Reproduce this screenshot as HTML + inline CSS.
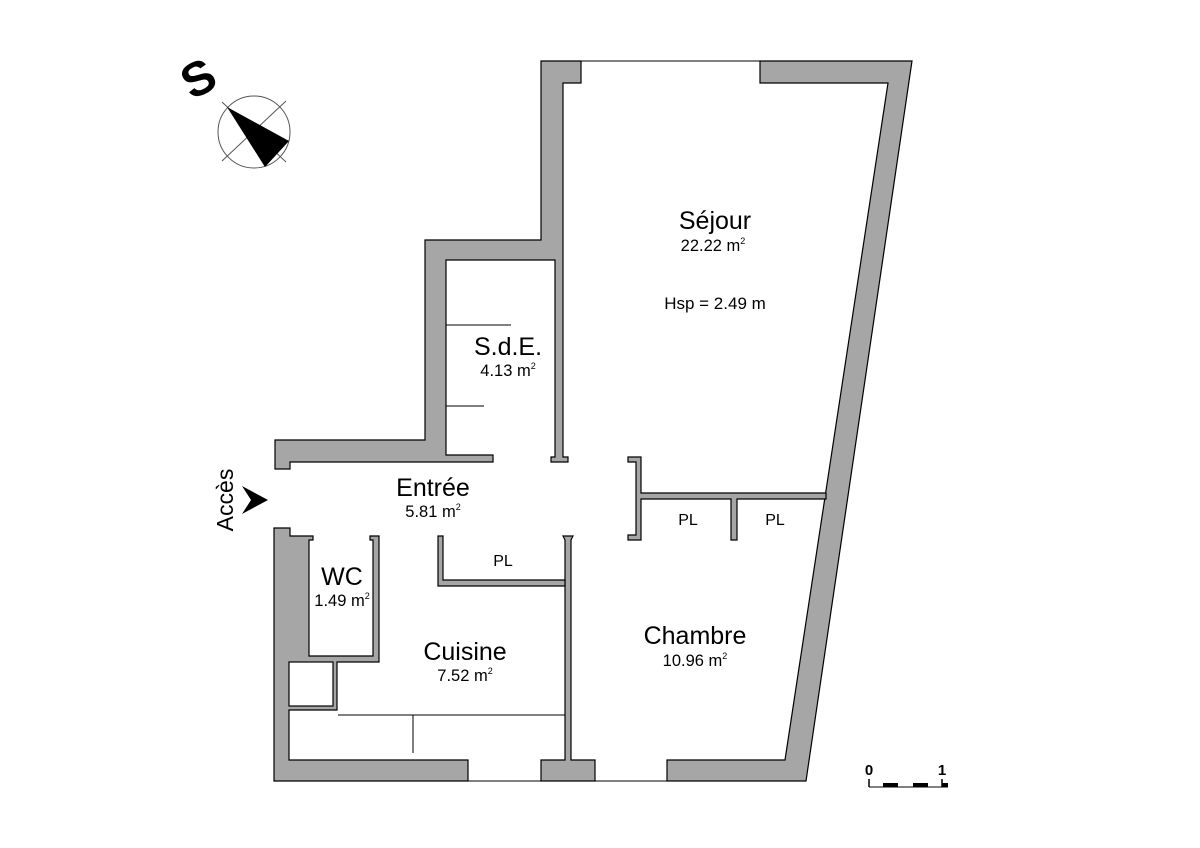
<!DOCTYPE html>
<html><head><meta charset="utf-8"><style>
html,body{margin:0;padding:0;background:#fff;}
svg{display:block;}
text{font-family:"Liberation Sans",sans-serif;fill:#000;}
</style></head><body>
<svg width="1200" height="848" viewBox="0 0 1200 848" xmlns="http://www.w3.org/2000/svg">
<g fill="#a6a6a6" stroke="#000" stroke-width="1.2" stroke-linejoin="miter">
<polygon points="275,440 425,440 425,240 541,240 541,61 581,61 581,83 563,83 563,457 568,457 568,462 551,462 551,457 555,457 555,260 446,260 446,455 493,455 493,462 290,462 290,469 275,469"/>
<polygon points="760,61 912,61 806,781 667,781 667,760 785,760 888,83 760,83"/>
<polygon points="274,528 290,528 290,536 313,536 313,540 309,540 309,656 373,656 373,540 370,540 370,536 379,536 379,662 337,662 337,710 289,710 289,760 468,760 468,781 274,781"/>
<rect x="289" y="662" width="44" height="44" fill="#fff"/>
<polygon points="541,760 565,760 565,540 563,536 573,536 571,540 571,760 595,760 595,781 541,781"/>
<polygon points="438,536 443,536 443,580 565,580 565,586 438,586"/>
<polygon points="628,457 641,457 641,493 826,493 826,499 737,499 737,540 731,540 731,499 641,499 641,540 628,540 628,535 636,535 636,462 628,462"/>
</g>
<g stroke="#000" stroke-width="1" fill="none">
<line x1="581" y1="61" x2="760" y2="61"/>
<line x1="468" y1="781" x2="541" y2="781"/>
<line x1="595" y1="781" x2="667" y2="781"/>
<line x1="446" y1="325" x2="511" y2="325"/>
<line x1="446" y1="406" x2="484" y2="406"/>
<line x1="338" y1="715" x2="565" y2="715"/>
<line x1="413" y1="715" x2="413" y2="753"/>
</g>
<g>
<circle cx="254" cy="132" r="36" fill="none" stroke="#555" stroke-width="1"/>
<line x1="222" y1="161" x2="286" y2="101" stroke="#555" stroke-width="1"/>
<line x1="222" y1="102" x2="286" y2="162" stroke="#555" stroke-width="1"/>
<polygon points="227,107 289,141 265,167" fill="#000"/>
<text x="0" y="0" font-size="48" font-weight="bold" text-anchor="middle" transform="translate(206,93) rotate(-28)">S</text>
</g>
<text font-size="23" text-anchor="middle" transform="translate(233,500) rotate(-90)">Accès</text>
<polygon points="242,486 268,500 242,514 251,500" fill="#000"/>
<text x="715" y="229" font-size="25" text-anchor="middle">Séjour</text>
<text x="713" y="251" font-size="16.5" text-anchor="middle">22.22 m<tspan font-size="9" dy="-7">2</tspan></text>
<text x="715" y="309" font-size="17" text-anchor="middle">Hsp = 2.49 m</text>
<text x="508" y="355" font-size="25" text-anchor="middle">S.d.E.</text>
<text x="508" y="376" font-size="16.5" text-anchor="middle">4.13 m<tspan font-size="9" dy="-7">2</tspan></text>
<text x="433" y="496" font-size="25" text-anchor="middle">Entrée</text>
<text x="433" y="517" font-size="16.5" text-anchor="middle">5.81 m<tspan font-size="9" dy="-7">2</tspan></text>
<text x="503" y="566" font-size="16" text-anchor="middle">PL</text>
<text x="342" y="585" font-size="25" text-anchor="middle">WC</text>
<text x="342" y="606" font-size="16.5" text-anchor="middle">1.49 m<tspan font-size="9" dy="-7">2</tspan></text>
<text x="465" y="660" font-size="25" text-anchor="middle">Cuisine</text>
<text x="465" y="681" font-size="16.5" text-anchor="middle">7.52 m<tspan font-size="9" dy="-7">2</tspan></text>
<text x="695" y="644" font-size="25" text-anchor="middle">Chambre</text>
<text x="695" y="666" font-size="16.5" text-anchor="middle">10.96 m<tspan font-size="9" dy="-7">2</tspan></text>
<text x="688" y="525" font-size="16" text-anchor="middle">PL</text>
<text x="775" y="525" font-size="16" text-anchor="middle">PL</text>
<text x="869" y="775" font-size="15" font-weight="bold" text-anchor="middle">0</text>
<text x="942" y="775" font-size="15" font-weight="bold" text-anchor="middle">1</text>
<g stroke="#000">
<line x1="869" y1="787" x2="948" y2="787" stroke-width="1"/>
<line x1="869" y1="779" x2="869" y2="787" stroke-width="1.5"/>
<line x1="942" y1="779" x2="942" y2="787" stroke-width="1.5"/>
</g>
<g fill="#000">
<rect x="883" y="783" width="15" height="4"/>
<rect x="913" y="783" width="15" height="4"/>
<rect x="942" y="783" width="6" height="4"/>
</g>
</svg>
</body></html>
